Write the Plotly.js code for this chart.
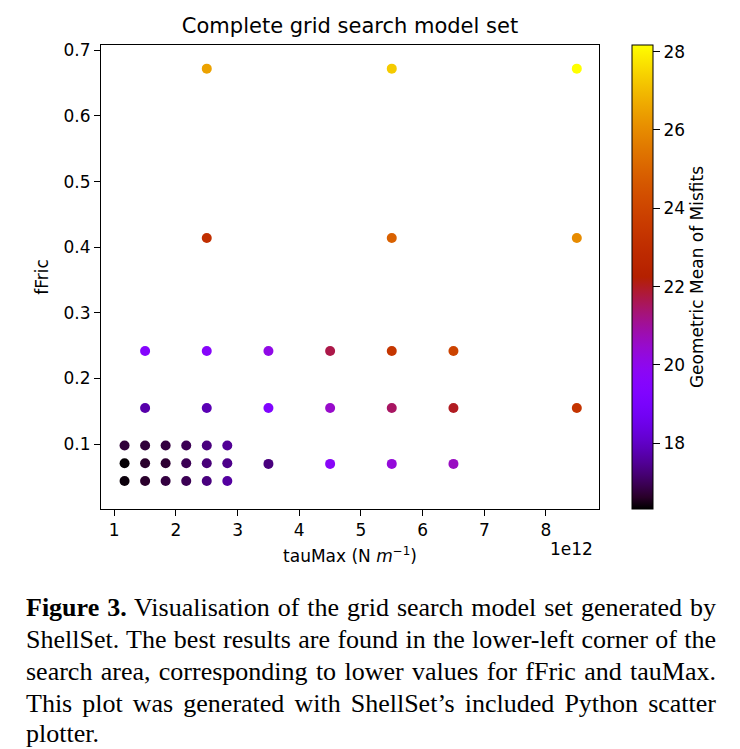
<!DOCTYPE html>
<html>
<head>
<meta charset="utf-8">
<script src="https://cdn.plot.ly/plotly-3.0.1.min.js"></script>
<style>html,body{margin:0;padding:0;background:#fff;}#chart{width:740px;height:749px;}</style>
</head>
<body>
<div id="chart"></div>
<script>
// tauMax in N m^-1
const tauMax = [
  1.167e12, 1.5e12, 1.833e12, 2.167e12, 2.5e12, 2.833e12,
  1.167e12, 1.5e12, 1.833e12, 2.167e12, 2.5e12, 2.833e12,
  1.167e12, 1.5e12, 1.833e12, 2.167e12, 2.5e12, 2.833e12,
  3.5e12, 4.5e12, 5.5e12, 6.5e12,
  1.5e12, 2.5e12, 3.5e12, 4.5e12, 5.5e12, 6.5e12, 8.5e12,
  1.5e12, 2.5e12, 3.5e12, 4.5e12, 5.5e12, 6.5e12,
  2.5e12, 5.5e12, 8.5e12,
  2.5e12, 5.5e12, 8.5e12
];
const fFric = [
  0.098, 0.098, 0.098, 0.098, 0.098, 0.098,
  0.071, 0.071, 0.071, 0.071, 0.071, 0.071,
  0.044, 0.044, 0.044, 0.044, 0.044, 0.044,
  0.07, 0.07, 0.07, 0.07,
  0.155, 0.155, 0.155, 0.155, 0.155, 0.155, 0.155,
  0.242, 0.242, 0.242, 0.242, 0.242, 0.242,
  0.414, 0.414, 0.414,
  0.672, 0.672, 0.672
];
const misfit = [
  16.75, 16.75, 16.8, 16.95, 17.3, 17.5,
  16.35, 16.65, 16.7, 16.95, 17.25, 17.4,
  16.4, 16.65, 16.8, 16.95, 17.3, 17.6,
  17.3, 19.7, 20.3, 20.6,
  17.7, 17.8, 19.3, 20.5, 21.5, 22.0, 23.3,
  19.5, 19.6, 20.1, 21.7, 23.4, 23.9,
  23.1, 24.9, 26.0,
  26.5, 27.3, 28.17
];
const xTickVals = [1e12, 2e12, 3e12, 4e12, 5e12, 6e12, 7e12, 8e12];
const xTickText = ['1', '2', '3', '4', '5', '6', '7', '8'];
const yTickVals = [0.1, 0.2, 0.3, 0.4, 0.5, 0.6, 0.7];
const cbTickVals = [18, 20, 22, 24, 26, 28];
const captionLines = [
  '<b>Figure 3.</b> Visualisation of the grid search model set generated by',
  'ShellSet. The best results are found in the lower-left corner of the',
  'search area, corresponding to lower values for fFric and tauMax.',
  'This plot was generated with ShellSet\u2019s included Python scatter',
  'plotter.'
];

// matplotlib "gnuplot" colormap
function gnuplot(t) {
  const r = Math.sqrt(t), g = t * t * t, b = Math.max(0, Math.min(1, Math.sin(2 * Math.PI * t)));
  return 'rgb(' + Math.round(r * 255) + ',' + Math.round(g * 255) + ',' + Math.round(b * 255) + ')';
}
const colorscale = [];
for (let i = 0; i <= 40; i++) { const t = i / 40; colorscale.push([t, gnuplot(t)]); }

const L = 101, R = 141, T = 45, B = 240, W = 740, H = 749;
const pw = W - L - R, ph = H - T - B;
const px = x => (x - L) / pw;
const py = y => (H - B - y) / ph;

const font = 'DejaVu Sans, sans-serif';
const trace = {
  type: 'scatter', mode: 'markers',
  x: tauMax, y: fFric,
  marker: {
    size: 10, color: misfit, colorscale: colorscale, cmin: 16.32, cmax: 28.17,
    line: {width: 0},
    showscale: true,
    colorbar: {
      x: px(632), xanchor: 'left', xpad: 0, ypad: 0,
      y: 0.5, yanchor: 'middle', len: 1, lenmode: 'fraction',
      thickness: 21, thicknessmode: 'pixels',
      outlinecolor: '#000', outlinewidth: 1,
      tickmode: 'array', tickvals: cbTickVals,
      ticks: 'outside', ticklen: 7, tickcolor: '#000', tickwidth: 1,
      tickfont: {family: font, size: 17, color: '#000'},
      title: {text: 'Geometric Mean of Misfits', side: 'right', font: {family: font, size: 17, color: '#000'}}
    }
  },
  hoverinfo: 'x+y'
};

const annotations = [
  {text: '1e12', xref: 'paper', yref: 'paper', x: px(571), y: py(549), xanchor: 'center', yanchor: 'middle', showarrow: false, font: {family: font, size: 17, color: '#000'}}
];
const lineY = [607, 639, 671, 703, 733];
captionLines.forEach((t, i) => {
  annotations.push({text: t, xref: 'paper', yref: 'paper', x: px(25), y: py(lineY[i]), xanchor: 'left', yanchor: 'middle', showarrow: false, align: 'left', borderpad: 0,
    font: {family: 'Liberation Serif, Times New Roman, serif', size: 26, color: '#000'}});
});

const layout = {
  width: W, height: H,
  margin: {l: L, r: R, t: T, b: B, pad: 0},
  paper_bgcolor: '#fff', plot_bgcolor: '#fff',
  showlegend: false,
  title: {text: 'Complete grid search model set', x: px(350), xanchor: 'center', xref: 'paper', y: 1 - 26 / H, yanchor: 'middle', font: {family: font, size: 21, color: '#000'}},
  xaxis: {
    range: [0.785e12, 8.86e12], showgrid: false, zeroline: false,
    tickmode: 'array', tickvals: xTickVals, ticktext: xTickText,
    ticks: 'outside', ticklen: 6, tickwidth: 1, tickcolor: '#000',
    showline: true, linecolor: '#000', linewidth: 1, mirror: true,
    tickfont: {family: font, size: 17, color: '#000'},
    title: {text: 'tauMax (N <i>m</i><sup>\u22121</sup>)', standoff: 10, font: {family: font, size: 17, color: '#000'}}
  },
  yaxis: {
    range: [0.0013, 0.708], showgrid: false, zeroline: false,
    tickmode: 'array', tickvals: yTickVals,
    ticks: 'outside', ticklen: 6, tickwidth: 1, tickcolor: '#000',
    showline: true, linecolor: '#000', linewidth: 1, mirror: true,
    tickfont: {family: font, size: 17, color: '#000'},
    title: {text: 'fFric', standoff: 10, font: {family: font, size: 17, color: '#000'}}
  },
  annotations: annotations
};

Plotly.newPlot('chart', [trace], layout, {displayModeBar: false, staticPlot: true}).then(() => {
  // justify the caption lines (all but the last) to the text block width
  const target = 690;
  const texts = document.querySelectorAll('#chart .annotation-text');
  texts.forEach(el => {
    const s = el.textContent;
    const idx = captionLines.findIndex(c => c.replace(/<[^>]+>/g, '') === s);
    if (idx < 0 || idx === captionLines.length - 1) return;
    const spaces = (s.match(/ /g) || []).length;
    const w = el.getComputedTextLength();
    if (spaces > 0 && w < target) el.style.wordSpacing = ((target - w) / spaces) + 'px';
  });
});
</script>
</body>
</html>
